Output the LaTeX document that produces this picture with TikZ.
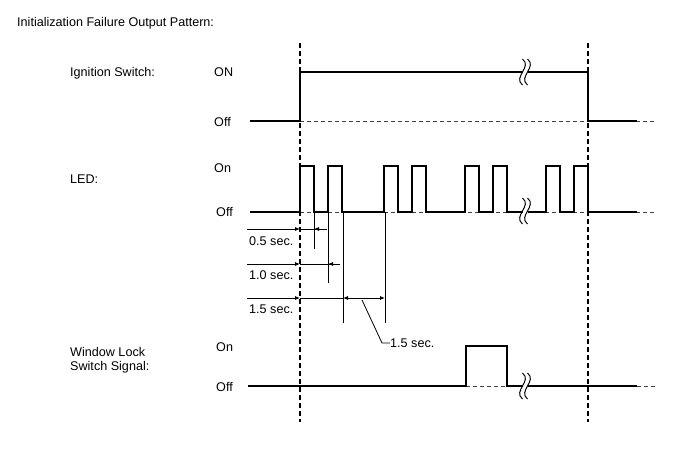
\documentclass[tikz,border=0pt]{standalone}
\usepackage{fontspec}
\setmainfont{Liberation Sans}
\usetikzlibrary{arrows.meta}
\begin{document}
\begin{tikzpicture}[x=1pt,y=-1pt,
  sig/.style={line width=1.5pt, line join=miter},
  base/.style={line width=0.9pt, dash pattern=on 4pt off 3pt, black!75},
  guide/.style={line width=1.5pt, dash pattern=on 5pt off 3pt},
  dim/.style={line width=0.8pt},
  arr/.style={-{Latex[length=5pt,width=4pt]}},
  darr/.style={{Latex[length=5pt,width=4pt]}-{Latex[length=5pt,width=4pt]}},
  lbl/.style={font=\fontsize{12.6}{14}\selectfont, inner sep=0pt, anchor=west, text height=9pt, text depth=0pt},
  brk/.pic={
    \fill[white] (0,-2) rectangle (5,2);
    \draw[line width=1pt] (0,-13) .. controls (10,-5) and (-10,5) .. (0,13);
    \draw[line width=1pt] (5,-13) .. controls (15,-5) and (-5,5) .. (5,13);
  }
]
\useasboundingbox (0,0) rectangle (688,463);

% labels
\node[lbl] (title) at (17,22) {Initialization Failure Output Pattern:};
\node[lbl] (ign) at (70,72) {Ignition Switch:};
\node[lbl] (ignon) at (214,72) {ON};
\node[lbl] (ignoff) at (214,122) {Off};
\node[lbl] (led) at (70,179) {LED:};
\node[lbl] (ledon) at (214,168) {On};
\node[lbl] (ledoff) at (216,212) {Off};
\node[lbl] (wl1) at (70,352) {Window Lock};
\node[lbl] (wl2) at (70,366) {Switch Signal:};
\node[lbl] (wlon) at (216,347) {On};
\node[lbl] (wloff) at (216,387) {Off};
\node[lbl] (s05) at (249,241) {0.5 sec.};
\node[lbl] (s10) at (249,275) {1.0 sec.};
\node[lbl] (s15) at (249,309) {1.5 sec.};
\node[lbl] (s15b) at (390,343) {1.5 sec.};

% guide lines
\coordinate (g1t) at (300,43); \coordinate (g1b) at (300,422);
\coordinate (g2t) at (588,43); \coordinate (g2b) at (588,422);
\draw[guide] (g1t) -- (g1b);
\draw[guide] (g2t) -- (g2b);

% off baselines (dashed)
\draw[base] (300,121) -- (655,121);
\draw[base] (300,212) -- (655,212);
\draw[base] (466,386) -- (507,386);
\draw[base] (637,386) -- (655,386);

% ignition
\draw[sig] (250,121) -- (300,121) -- (300,72) -- (588,72) -- (588,121) -- (637,121);
\pic at (522.5,72) {brk};

% LED
\draw[sig] (250,212) -- (300,212) -- (300,166) -- (314,166) -- (314,212) -- (328,212) -- (328,166) -- (342,166) -- (342,212)
  -- (384,212) -- (384,166) -- (398,166) -- (398,212) -- (412,212) -- (412,166) -- (426,166) -- (426,212)
  -- (465,212) -- (465,166) -- (479,166) -- (479,212) -- (493,212) -- (493,166) -- (507,166) -- (507,212)
  -- (546,212) -- (546,166) -- (560,166) -- (560,212) -- (574,212) -- (574,166) -- (588,166) -- (588,212) -- (637,212);
\pic at (522.5,211) {brk};

% window lock
\draw[sig] (248,386) -- (466,386) -- (466,346) -- (507,346) -- (507,386) -- (637,386);
\pic at (522.5,386) {brk};

% dimension lines
\draw[dim] (314,212) -- (314,249);
\draw[dim] (328,212) -- (328,283);
\draw[dim] (343,212) -- (343,323);
\draw[dim] (385,212) -- (385,323);

\draw[dim,arr] (247,229) -- (300,229);
\draw[dim] (300,229) -- (327,229);
\draw[dim,arr] (327,229) -- (314,229);

\draw[dim,arr] (247,264) -- (300,264);
\draw[dim] (300,264) -- (340,264);
\draw[dim,arr] (340,264) -- (328,264);

\draw[dim,arr] (247,298) -- (300,298);
\draw[dim] (300,298) -- (343,298);
\draw[dim,darr] (343,298) -- (385,298);

\coordinate (ld1) at (362,300);
\coordinate (ld2) at (382,343);
\draw[dim] (ld1) -- (ld2) -- (s15b.west);
\end{tikzpicture}
\end{document}
